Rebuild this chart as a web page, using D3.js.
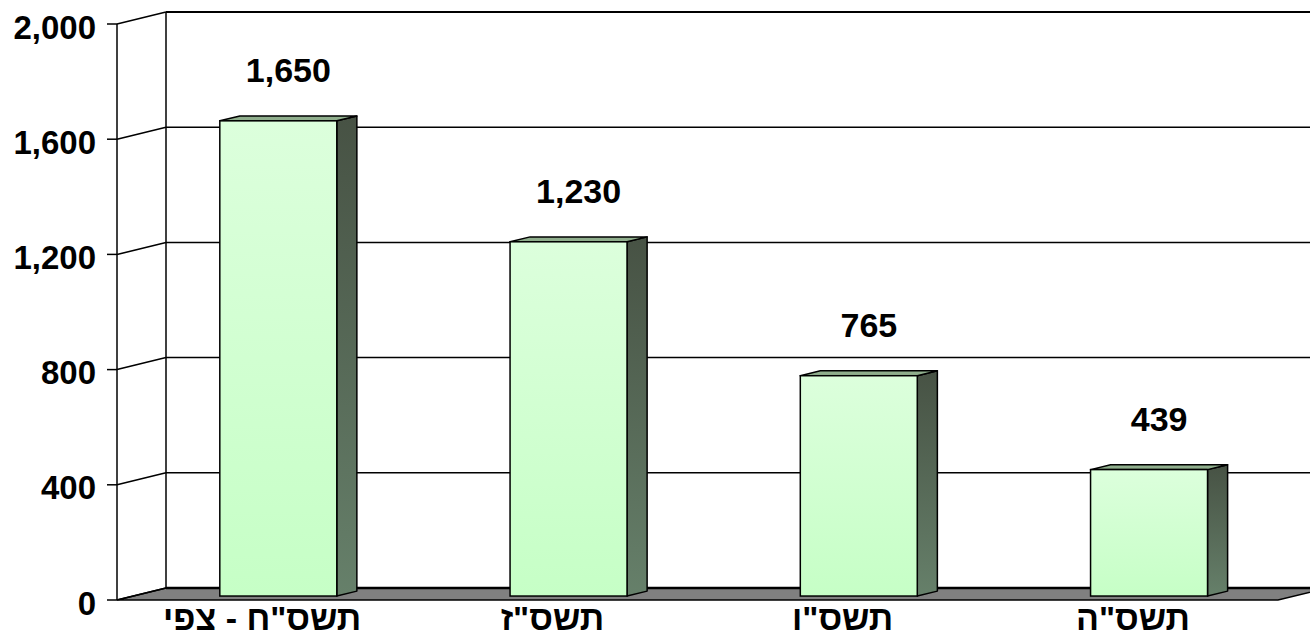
<!DOCTYPE html>
<html>
<head>
<meta charset="utf-8">
<script src="https://cdn.jsdelivr.net/npm/d3@7"></script>
<style>
  html, body { margin: 0; padding: 0; background: #fff; }
  svg { display: block; font-family: "Liberation Sans", Arial, sans-serif; }
</style>
</head>
<body>
<svg id="chart" width="1310" height="638"></svg>
<script>
// categories left to right, as in the picture
var categories = ['תשס"ח - צפי', 'תשס"ז', 'תשס"ו', 'תשס"ה'];
var values = [1650, 1230, 765, 439];
var yTicks = [0, 400, 800, 1200, 1600, 2000];

var svg = d3.select("#chart");

// front plane of the plot
var x0 = 117, x1 = 1278, yTop = 24, yBot = 600;
// depth offset of the back wall
var DX = 49, DY = 12;
// bar depth range (0 = front, 1 = back)
var zA = 0.33, zB = 0.74;

var x = d3.scaleBand().domain(categories).range([x0, x1]).paddingInner(0.597).paddingOuter(0.2985);
var y = d3.scaleLinear().domain([0, 2000]).range([yBot, yTop]);
var fmt = d3.format(",");

function px(v, z) { return v + z * DX; }
function py(v, z) { return v - z * DY; }

var defs = svg.append("defs");
var gFront = defs.append("linearGradient").attr("id", "front").attr("x1", 0).attr("y1", 0).attr("x2", 0).attr("y2", 1);
gFront.append("stop").attr("offset", "0%").attr("stop-color", "#dcffdc");
gFront.append("stop").attr("offset", "100%").attr("stop-color", "#c6ffc6");
var gSide = defs.append("linearGradient").attr("id", "side").attr("x1", 0).attr("y1", 0).attr("x2", 0).attr("y2", 1);
gSide.append("stop").attr("offset", "0%").attr("stop-color", "#475244");
gSide.append("stop").attr("offset", "100%").attr("stop-color", "#66806a");

// floor
var floor = [[x0, yBot], [x1, yBot], [px(x1, 1), py(yBot, 1)], [px(x0, 1), py(yBot, 1)]];
svg.append("polygon")
  .attr("points", floor.map(function(p) { return p.join(","); }).join(" "))
  .attr("fill", "#808080")
  .attr("stroke", "#000")
  .attr("stroke-width", 1.5);

// gridlines on back wall and side wall
var grid = svg.append("g").attr("stroke", "#000").attr("fill", "none");
yTicks.forEach(function(t) {
  if (t > 0) {
    grid.append("line")
      .attr("x1", px(x0, 1)).attr("x2", px(x1, 1) + 10)
      .attr("y1", py(y(t), 1)).attr("y2", py(y(t), 1))
      .attr("stroke-width", t === 2000 ? 2.2 : 1.5);
  }
  grid.append("line")
    .attr("x1", x0).attr("y1", y(t))
    .attr("x2", px(x0, 1)).attr("y2", py(y(t), 1))
    .attr("stroke-width", 1.5);
});
grid.append("line")
  .attr("x1", px(x0, 1)).attr("x2", px(x1, 1) + 10)
  .attr("y1", py(yBot, 1)).attr("y2", py(yBot, 1))
  .attr("stroke-width", 2.5);
// back wall left edge
grid.append("line")
  .attr("x1", px(x0, 1)).attr("x2", px(x0, 1))
  .attr("y1", py(yTop, 1)).attr("y2", py(yBot, 1))
  .attr("stroke-width", 1.5);

// front value axis
var axis = svg.append("g").attr("stroke", "#000").attr("stroke-width", 1.5);
axis.append("line").attr("x1", x0).attr("x2", x0).attr("y1", yTop).attr("y2", yBot);
axis.selectAll("line.tick").data(yTicks).enter().append("line")
  .attr("class", "tick")
  .attr("x1", x0 - 10).attr("x2", x0)
  .attr("y1", function(d) { return y(d); })
  .attr("y2", function(d) { return y(d); });

svg.append("g").selectAll("text").data(yTicks).enter().append("text")
  .attr("x", x0 - 21)
  .attr("y", function(d) { return y(d) + 3; })
  .attr("dy", "0.35em")
  .attr("text-anchor", "end")
  .attr("font-size", 33)
  .attr("font-weight", "bold")
  .text(function(d) { return fmt(d); });

// bars
var bars = svg.append("g").selectAll("g").data(values).enter().append("g");

bars.each(function(v, i) {
  var g = d3.select(this);
  var bx0 = x(categories[i]), bx1 = bx0 + x.bandwidth();
  var yt = y(v), yb = y(0);
  // side face
  g.append("polygon")
    .attr("points", [
      [px(bx1, zA), py(yt, zA)], [px(bx1, zB), py(yt, zB)],
      [px(bx1, zB), py(yb, zB)], [px(bx1, zA), py(yb, zA)]
    ].map(function(p) { return p.join(","); }).join(" "))
    .attr("fill", "url(#side)")
    .attr("stroke", "#000").attr("stroke-width", 1.5).attr("stroke-linejoin", "round");
  // top face
  g.append("polygon")
    .attr("points", [
      [px(bx0, zA), py(yt, zA)], [px(bx1, zA), py(yt, zA)],
      [px(bx1, zB), py(yt, zB)], [px(bx0, zB), py(yt, zB)]
    ].map(function(p) { return p.join(","); }).join(" "))
    .attr("fill", "#8fae8c")
    .attr("stroke", "#000").attr("stroke-width", 1.5).attr("stroke-linejoin", "round");
  // front face
  g.append("rect")
    .attr("x", px(bx0, zA)).attr("y", py(yt, zA))
    .attr("width", bx1 - bx0).attr("height", yb - yt)
    .attr("fill", "url(#front)")
    .attr("stroke", "#000").attr("stroke-width", 1.5);
  // value label
  g.append("text")
    .attr("x", px((bx0 + bx1) / 2, (zA + zB) / 2))
    .attr("y", py(yt, (zA + zB) / 2) - 36)
    .attr("text-anchor", "middle")
    .attr("font-size", 34)
    .attr("font-weight", "bold")
    .text(fmt(v));
});

// category labels
svg.append("g").selectAll("text").data(categories).enter().append("text")
  .attr("x", function(d) { return x(d) + x.bandwidth() / 2; })
  .attr("y", 630)
  .attr("text-anchor", "middle")
  .attr("direction", "rtl")
  .attr("font-size", 34)
  .attr("font-weight", "bold")
  .text(function(d) { return d; });
</script>
</body>
</html>
